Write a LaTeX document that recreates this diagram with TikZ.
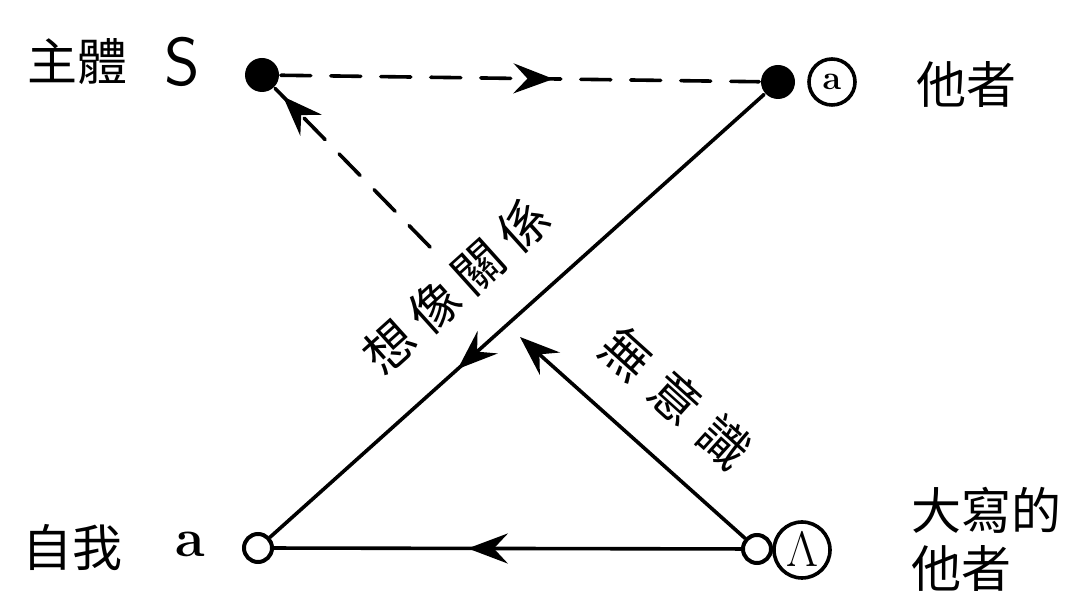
\documentclass[tikz,border=0pt]{standalone}
\usepackage{fontspec}
\newfontfamily\cjk{Noto Sans CJK TC}
\usetikzlibrary{arrows.meta,decorations.markings}
\tikzset{
  fulldot/.style={circle,fill,inner sep=0pt,minimum size=17pt},
  opendot/.style={circle,draw,line width=2pt,fill=white,inner sep=0pt,minimum size=14pt},
  letterring/.style={circle,draw,line width=1.8pt,inner sep=0pt},
  cjklabel/.style={font=\cjk\fontsize{25}{29}\selectfont},
  tip/.tip={Stealth[length=20pt,width=15pt,inset=7pt]},
  midarrow/.style={postaction={decorate,decoration={markings,
    mark=at position #1 with {\arrow{tip}}}}},
  dashline/.style={dash pattern=on 15pt off 10pt}
}
\begin{document}
\begin{tikzpicture}[x=0.5pt,y=0.5pt,line width=1.8pt,line cap=round]
\useasboundingbox (0,0) rectangle (1082,593);
% the four corners of the schema
\node[fulldot] (S) at (262,518) {};
\node[fulldot] (o) at (778,511) {};
\node[opendot] (a) at (258,45) {};
\node[opendot] (A) at (757,44) {};
\coordinate (sbreak) at (430,346);
\coordinate (ubreak) at (520,256);
% connectors
\draw[dashline,midarrow=0.57] (S)--(o);
\draw[dashline,midarrow=0.95] (sbreak)--(S);
\draw[midarrow=0.62] (o)--(a);
\draw[midarrow=0.585] (A)--(a);
\draw[-tip] (A)--(ubreak);
% labels
\node[cjklabel] (subj) at (77,531) {主體};
\node[font=\sffamily\fontsize{34}{38}\selectfont] (Slab) at (182,531) {S};
\node[letterring,minimum size=23pt,font=\bfseries\fontsize{17}{18}\selectfont] (oring) at (832,511) {a};
\node[cjklabel] (other) at (966,508) {他者};
\node[cjklabel] (ego) at (72,45) {自我};
\node[font=\bfseries\fontsize{27}{30}\selectfont] (alab) at (190,49) {a};
\node[letterring,minimum size=28pt,font=\fontsize{24}{26}\selectfont] (Aring) at (802,43) {$\Lambda$};
\node[cjklabel,align=left,anchor=west] (bigother) at (903,54) {大寫的\\他者};
\node[cjklabel,rotate=42] (imag) at (456,307) {想\hspace{5pt}像\hspace{5pt}關\hspace{5pt}係};
\node[cjklabel,rotate=-42] (uncon) at (676,195) {無\hspace{8pt}意\hspace{8pt}識};
\end{tikzpicture}
\end{document}
